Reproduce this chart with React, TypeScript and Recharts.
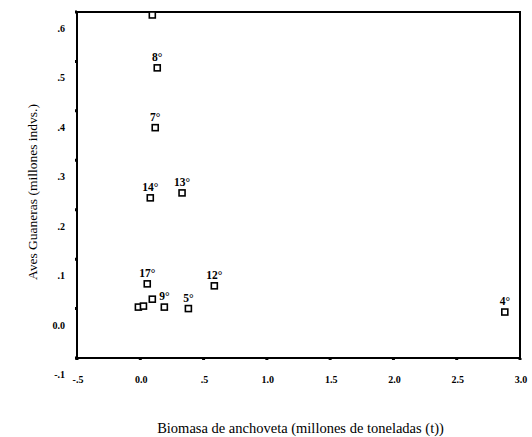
import {
  ScatterChart,
  Scatter,
  XAxis,
  YAxis,
  ReferenceArea,
} from 'recharts';

// Fishing-season labels and positions (biomasa, aves)
const seasons = ['', '8°', '7°', '14°', '13°', '17°', '12°', '', '9°', '5°', '', '', '4°'];
const biomasa = [0.095, 0.134, 0.118, 0.079, 0.33, 0.055, 0.585, 0.095, 0.19, 0.38, -0.015, 0.025, 2.88];
const aves = [0.594, 0.487, 0.366, 0.224, 0.234, 0.05, 0.046, 0.019, 0.003, 0.0, 0.003, 0.005, -0.007];

const xTicks = [-0.5, 0, 0.5, 1, 1.5, 2, 2.5, 3];
const xTickLabels = ['-.5', '0.0', '.5', '1.0', '1.5', '2.0', '2.5', '3.0'];
const yTicks = [-0.1, 0, 0.1, 0.2, 0.3, 0.4, 0.5, 0.6];
const yTickLabels = ['-.1', '0.0', '.1', '.2', '.3', '.4', '.5', '.6'];

const data = biomasa.map((x, i) => ({ x, y: aves[i], name: seasons[i] }));

const serif = '"Liberation Serif", "DejaVu Serif", serif';

const XTick = (props: any) => {
  const { x, y, payload } = props;
  const i = xTicks.indexOf(payload.value);
  return (
    <text x={x + 1} y={y + 21} textAnchor='middle' fontFamily={serif} fontSize={10} fontWeight='bold' fill='#000'>
      {xTickLabels[i]}
    </text>
  );
};

const YTick = (props: any) => {
  const { x, y, payload } = props;
  const i = yTicks.indexOf(payload.value);
  return (
    <text x={x - 8} y={y + 20} textAnchor='end' fontFamily={serif} fontSize={10} fontWeight='bold' fill='#000'>
      {yTickLabels[i]}
    </text>
  );
};

const SquareMark = (props: any) => {
  const { cx, cy, payload } = props;
  return (
    <g>
      <rect x={cx - 3} y={cy - 3} width={6} height={6} fill='#fff' stroke='#000' strokeWidth={1.6} />
      {payload.name ? (
        <text x={cx} y={cy - 7} textAnchor='middle' fontFamily={serif} fontSize={11.5} fontWeight='bold' fill='#000'>
          {payload.name}
        </text>
      ) : null}
    </g>
  );
};

export default function App() {
  return (
    <div style={{ position: 'absolute', left: 0, top: 0, background: '#fff' }}>
      <ScatterChart
        width={532}
        height={437}
        margin={{ top: 12, right: 12, left: 40, bottom: 39 }}>
        <ReferenceArea
          x1={-0.5}
          x2={3}
          y1={-0.1}
          y2={0.6}
          fill='none'
          stroke='#000'
          strokeWidth={2}
          ifOverflow='visible'
        />
        <XAxis
          type='number'
          dataKey='x'
          domain={[-0.5, 3]}
          ticks={xTicks}
          allowDataOverflow
          height={40}
          axisLine={{ stroke: '#000', strokeWidth: 2 }}
          tickLine={{ stroke: '#000', strokeWidth: 3 }}
          tickSize={2}
          tick={<XTick />}
          label={{
            value: 'Biomasa de anchoveta (millones de toneladas (t))',
            position: 'insideBottom',
            offset: -35,
            dx: 2,
            fontFamily: serif,
            fontSize: 14.5,
            fill: '#000',
          }}
        />
        <YAxis
          type='number'
          dataKey='y'
          domain={[-0.1, 0.6]}
          ticks={yTicks}
          allowDataOverflow
          width={37}
          axisLine={{ stroke: '#000', strokeWidth: 2 }}
          tickLine={{ stroke: '#000', strokeWidth: 3 }}
          tickSize={2}
          tick={<YTick />}
          label={{
            value: 'Aves Guaneras (millones indvs.)',
            angle: -90,
            position: 'insideLeft',
            offset: -8,
            dy: 95,
            fontFamily: serif,
            fontSize: 13.5,
            fill: '#000',
          }}
        />
        <Scatter data={data} shape={<SquareMark />} isAnimationActive={false} />
      </ScatterChart>
    </div>
  );
}
